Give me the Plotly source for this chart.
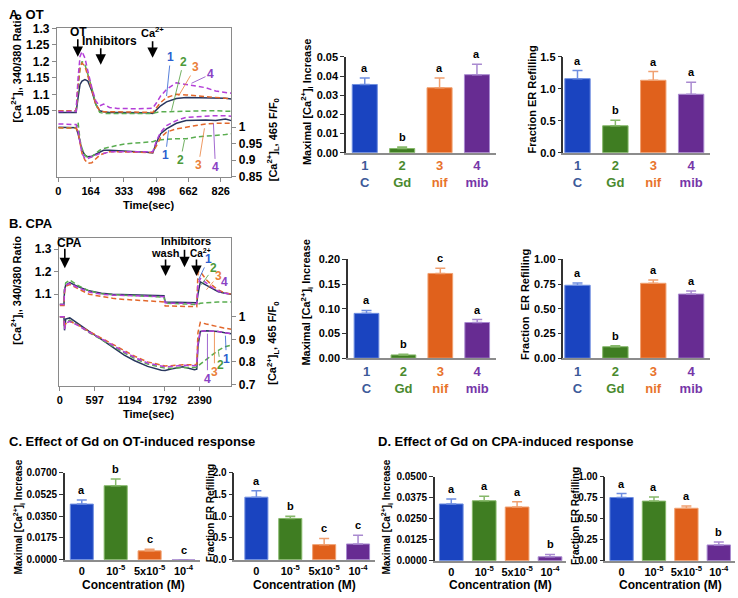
import plotly.graph_objects as go

W, H = 738, 598
FONT = "Liberation Sans, Arial, sans-serif"

# ---------------- data: panel A traces (OT) ----------------
A_time = [0, 90, 100, 110, 120, 135, 150, 170, 190, 210, 230, 260, 300, 350, 400, 450, 480,
          500, 520, 550, 600, 650, 700, 750, 800, 850, 880]
A_ratio_C   = [1.045, 1.045, 1.09, 1.13, 1.14, 1.145, 1.14, 1.11, 1.07, 1.05, 1.047, 1.045, 1.045, 1.045, 1.045, 1.044, 1.042,
               1.055, 1.065, 1.077, 1.087, 1.09, 1.09, 1.09, 1.088, 1.088, 1.086]
A_ratio_Gd  = [1.05, 1.05, 1.12, 1.18, 1.2, 1.19, 1.16, 1.12, 1.07, 1.045, 1.042, 1.042, 1.043, 1.043, 1.043, 1.043, 1.042,
               1.045, 1.047, 1.047, 1.048, 1.05, 1.05, 1.05, 1.05, 1.048, 1.048]
A_ratio_nif = [1.05, 1.05, 1.13, 1.18, 1.195, 1.185, 1.155, 1.11, 1.07, 1.05, 1.047, 1.047, 1.047, 1.046, 1.045, 1.045, 1.045,
               1.06, 1.075, 1.09, 1.1, 1.098, 1.095, 1.092, 1.09, 1.088, 1.087]
A_ratio_mib = [1.048, 1.048, 1.15, 1.215, 1.23, 1.21, 1.17, 1.12, 1.08, 1.065, 1.07, 1.06, 1.057, 1.056, 1.056, 1.057, 1.058,
               1.075, 1.095, 1.115, 1.135, 1.13, 1.125, 1.12, 1.11, 1.105, 1.103]
A_ff0_C   = [1.0, 0.998, 0.98, 0.95, 0.93, 0.915, 0.91, 0.912, 0.918, 0.925, 0.93, 0.93, 0.928, 0.927, 0.925, 0.924, 0.922,
             0.955, 0.98, 0.995, 1.012, 1.02, 1.022, 1.022, 1.02, 1.025, 1.02]
A_ff0_Gd  = [0.998, 0.998, 1.015, 0.96, 0.935, 0.915, 0.908, 0.91, 0.92, 0.93, 0.935, 0.94, 0.945, 0.95, 0.953, 0.955, 0.956,
             0.96, 0.962, 0.963, 0.965, 0.965, 0.97, 0.972, 0.975, 0.978, 0.98]
A_ff0_nif = [0.998, 0.997, 0.985, 0.95, 0.92, 0.9, 0.89, 0.892, 0.905, 0.915, 0.92, 0.925, 0.925, 0.925, 0.924, 0.923, 0.923,
             0.945, 0.968, 0.985, 0.995, 1.0, 1.005, 1.01, 1.012, 1.012, 1.012]
A_ff0_mib = [1.01, 1.008, 0.99, 0.95, 0.92, 0.905, 0.905, 0.91, 0.915, 0.92, 0.92, 0.925, 0.925, 0.925, 0.925, 0.925, 0.925,
             0.96, 0.985, 1.005, 1.02, 1.03, 1.032, 1.033, 1.035, 1.035, 1.033]
A_xticks = [0, 164, 333, 498, 662, 826]

# ---------------- data: panel B traces (CPA) ----------------
B_time = [0, 70, 80, 100, 170, 300, 500, 711, 900, 1100, 1280, 1500, 1735, 1780, 1800, 1900, 2100, 2300, 2340,
          2360, 2400, 2500, 2600, 2700, 2800, 2930]
B_ratio_C   = [1.054, 1.054, 1.12, 1.14, 1.152, 1.135, 1.115, 1.104, 1.1, 1.098, 1.097, 1.095, 1.094, 1.093, 1.065, 1.064,
               1.063, 1.062, 1.062, 1.1, 1.155, 1.14, 1.125, 1.112, 1.105, 1.1]
B_ratio_Gd  = [1.054, 1.054, 1.12, 1.15, 1.163, 1.14, 1.115, 1.102, 1.098, 1.095, 1.093, 1.09, 1.088, 1.087, 1.06, 1.058,
               1.057, 1.055, 1.055, 1.056, 1.06, 1.063, 1.064, 1.065, 1.065, 1.065]
B_ratio_nif = [1.05, 1.05, 1.11, 1.135, 1.143, 1.125, 1.1, 1.09, 1.082, 1.077, 1.074, 1.07, 1.067, 1.066, 1.048, 1.047,
               1.046, 1.045, 1.045, 1.2, 1.2, 1.165, 1.14, 1.12, 1.108, 1.1]
B_ratio_mib = [1.054, 1.054, 1.115, 1.14, 1.148, 1.13, 1.11, 1.1, 1.096, 1.094, 1.093, 1.09, 1.09, 1.089, 1.062, 1.06,
               1.06, 1.058, 1.058, 1.14, 1.17, 1.15, 1.13, 1.115, 1.105, 1.1]
B_ff0_C   = [1.0, 1.0, 0.94, 0.99, 0.995, 0.97, 0.935, 0.9, 0.865, 0.83, 0.805, 0.78, 0.763, 0.762, 0.762, 0.768,
             0.778, 0.765, 0.768, 0.87, 0.935, 0.938, 0.937, 0.935, 0.93, 0.925]
B_ff0_Gd  = [1.0, 1.0, 0.95, 0.975, 0.985, 0.965, 0.93, 0.9, 0.87, 0.84, 0.815, 0.79, 0.775, 0.773, 0.772, 0.772,
             0.775, 0.775, 0.776, 0.78, 0.79, 0.81, 0.83, 0.85, 0.865, 0.875]
B_ff0_nif = [1.0, 1.0, 0.95, 0.97, 0.98, 0.965, 0.935, 0.905, 0.88, 0.85, 0.825, 0.8, 0.785, 0.783, 0.782, 0.783,
             0.787, 0.787, 0.79, 0.93, 0.975, 0.968, 0.962, 0.955, 0.95, 0.945]
B_ff0_mib = [1.0, 1.0, 0.945, 0.97, 0.98, 0.963, 0.932, 0.9, 0.875, 0.845, 0.82, 0.795, 0.78, 0.778, 0.778, 0.78,
             0.785, 0.783, 0.785, 0.88, 0.935, 0.938, 0.937, 0.935, 0.93, 0.925]
B_xticks = [0, 597, 1194, 1792, 2390]

# ---------------- data: bar panels ----------------
groups = ["1", "2", "3", "4"]
group_names = ["C", "Gd", "nif", "mib"]
conc_labels = ["0", "10<sup>-5</sup>", "5x10<sup>-5</sup>", "10<sup>-4</sup>"]

A_max_mean = [0.0356, 0.0022, 0.0339, 0.0407]
A_max_sem = [0.0034, 0.0008, 0.0051, 0.0054]
A_max_letters = ["a", "b", "a", "a"]
A_ref_mean = [1.159, 0.422, 1.134, 0.915]
A_ref_sem = [0.127, 0.086, 0.137, 0.188]
A_ref_letters = ["a", "b", "a", "a"]

B_max_mean = [0.0907, 0.0066, 0.1715, 0.0722]
B_max_sem = [0.006, 0.0014, 0.0106, 0.006]
B_max_letters = ["a", "b", "c", "a"]
B_ref_mean = [0.738, 0.116, 0.758, 0.649]
B_ref_sem = [0.023, 0.01, 0.033, 0.03]
B_ref_letters = ["a", "b", "a", "a"]

C_max_mean = [0.0447, 0.0595, 0.0071, 0.0]
C_max_sem = [0.0032, 0.0053, 0.0013, 0.0]
C_max_letters = ["a", "b", "c", "c"]
C_ref_mean = [1.436, 0.947, 0.346, 0.361]
C_ref_sem = [0.15, 0.053, 0.143, 0.203]
C_ref_letters = ["a", "b", "c", "c"]

D_max_mean = [0.0337, 0.0356, 0.0319, 0.0023]
D_max_sem = [0.0029, 0.0027, 0.0031, 0.0014]
D_max_letters = ["a", "a", "a", "b"]
D_ref_mean = [0.751, 0.708, 0.623, 0.187]
D_ref_sem = [0.047, 0.05, 0.027, 0.035]
D_ref_letters = ["a", "a", "a", "b"]

# ---------------- styles ----------------
BAR_COLORS = ["#1a44c0", "#3f7d22", "#e0611c", "#672c92"]
ERR_COLORS = ["#6f8ee0", "#86b86a", "#f0a070", "#a98ad0"]
TICK_COLORS = ["#3d5a99", "#4a8a2e", "#e8732c", "#7636a8"]
LINE_COLORS = ["#28365e", "#5aad50", "#e2672b", "#b43fd8"]
LABEL_COLORS = ["#2c5fd0", "#4d9a3a", "#ea7f3a", "#8a42c4"]
LINE_DASH = ["solid", "5px,3px", "5px,3px", "5px,3px"]


def fx(px):
    return px / W


def fy(py):
    return 1 - py / H


fig = go.Figure()
layout = dict(width=W, height=H, margin=dict(l=0, r=0, t=0, b=0),
              paper_bgcolor="white", plot_bgcolor="rgba(0,0,0,0)", showlegend=False,
              font=dict(family=FONT, size=11, color="black"))
ann = []


def txt(px, py, text, size=11, color="black", angle=0, xanchor="center", yanchor="middle"):
    ann.append(dict(x=fx(px), y=fy(py), xref="paper", yref="paper", text=text, showarrow=False,
                    textangle=angle, xanchor=xanchor, yanchor=yanchor,
                    font=dict(family=FONT, size=size, color=color)))


def arrow(px, py_tail, py_head):
    ann.append(dict(x=fx(px), y=fy(py_head), xref="paper", yref="paper", text="", showarrow=True,
                    ax=0, ay=-(py_head - py_tail), axref="pixel", ayref="pixel",
                    arrowhead=2, arrowsize=1.3, arrowwidth=1.6, arrowcolor="black"))


def leader(px_text, py_text, px_end, py_end, text, color):
    ann.append(dict(x=fx(px_end), y=fy(py_end), xref="paper", yref="paper", text="<b>%s</b>" % text,
                    showarrow=True, ax=px_text - px_end, ay=py_text - py_end,
                    arrowhead=0, arrowwidth=0.8, arrowcolor=color,
                    font=dict(family=FONT, size=12, color=color)))


def trace_panel(xn, yl, yr, xl, xr, ytop, ybot, xrange, yrange, time, tops, bots,
                xticks, lticks, rticks):
    xs = "x" if xn == 1 else "x%d" % xn
    yls = "y" if yl == 1 else "y%d" % yl
    yrs = "y%d" % yr
    for i, ser in enumerate(tops):
        fig.add_trace(go.Scatter(x=time, y=ser, mode="lines", xaxis=xs, yaxis=yls,
                                 line=dict(color=LINE_COLORS[i], width=1.5, dash=LINE_DASH[i])))
    for i, ser in enumerate(bots):
        fig.add_trace(go.Scatter(x=time, y=ser, mode="lines", xaxis=xs, yaxis=yrs,
                                 line=dict(color=LINE_COLORS[i], width=1.5, dash=LINE_DASH[i])))
    xk = "xaxis" if xn == 1 else "xaxis%d" % xn
    ylk = "yaxis" if yl == 1 else "yaxis%d" % yl
    layout[xk] = dict(domain=[fx(xl), fx(xr)], anchor=yls, range=xrange, tickvals=xticks,
                      ticktext=[str(v) for v in xticks], showline=True, mirror=True,
                      linecolor="#8a8a8a", linewidth=1, ticks="outside", ticklen=4, tickcolor="#8a8a8a",
                      showgrid=False, zeroline=False,
                      tickfont=dict(family=FONT, size=11, color="black", weight="bold"))
    layout[ylk] = dict(domain=[fy(ybot), fy(ytop)], anchor=xs, range=yrange,
                       tickvals=[v for v, _ in lticks], ticktext=[t for _, t in lticks],
                       showline=True, linecolor="#8a8a8a", linewidth=1, ticks="outside", ticklen=4,
                       tickcolor="#8a8a8a", showgrid=False, zeroline=False,
                       tickfont=dict(family=FONT, size=12, color="black", weight="bold"))
    layout["yaxis%d" % yr] = dict(overlaying=yls, side="right", anchor=xs, range=yrange,
                                  tickvals=[v for v, _ in rticks], ticktext=[t for _, t in rticks],
                                  showline=True, linecolor="#8a8a8a", linewidth=1, ticks="outside",
                                  ticklen=4, tickcolor="#8a8a8a", showgrid=False, zeroline=False,
                                  tickfont=dict(family=FONT, size=12, color="black", weight="bold"))


def bar_panel(xn, yn, xl, xr, ytop, ybot, xrange, ymax, yticks, tickfmt, means, sems, letters,
              ticktext, tickfont_size, width, ytick_size=11):
    xs, ys = "x%d" % xn, "y%d" % yn
    for i, (m, s) in enumerate(zip(means, sems)):
        fig.add_trace(go.Bar(x=[i], y=[m], width=width, xaxis=xs, yaxis=ys,
                             marker=dict(color=BAR_COLORS[i], line=dict(color=ERR_COLORS[i], width=1)),
                             error_y=dict(type="data", array=[s], arrayminus=[0], symmetric=False,
                                          color=ERR_COLORS[i], thickness=1.5, width=5)))
        ann.append(dict(x=i, y=m + s, xref=xs, yref=ys, text="<b>%s</b>" % letters[i], showarrow=False,
                        yanchor="bottom", yshift=2, font=dict(family=FONT, size=11, color="black")))
    layout["xaxis%d" % xn] = dict(domain=[fx(xl), fx(xr)], anchor=ys, range=xrange, tickvals=[0, 1, 2, 3],
                                  ticktext=ticktext, showline=True, linecolor="#8c8c8c", linewidth=2,
                                  ticks="", showgrid=False, zeroline=False,
                                  tickfont=dict(family=FONT, size=tickfont_size, color="black", weight="bold"))
    layout["yaxis%d" % yn] = dict(domain=[fy(ybot), fy(ytop)], anchor=xs, range=[0, ymax], tickvals=yticks,
                                  tickformat=tickfmt, showline=True, linecolor="#333333", linewidth=1.5,
                                  ticks="outside", ticklen=4, tickwidth=1.2, tickcolor="#333333",
                                  showgrid=False, zeroline=False,
                                  tickfont=dict(family=FONT, size=ytick_size, color="black", weight="bold"))


grp_ticktext = ['<span style="color:%s">%s</span><br><span style="color:%s">%s</span>'
                % (TICK_COLORS[i], groups[i], TICK_COLORS[i], group_names[i]) for i in range(4)]

# ---------------- Panel A ----------------
trace_panel(1, 1, 2, 55, 230, 22, 175, [-8, 880], [0.848, 1.303], A_time,
            [A_ratio_C, A_ratio_Gd, A_ratio_nif, A_ratio_mib],
            [A_ff0_C, A_ff0_Gd, A_ff0_nif, A_ff0_mib], A_xticks,
            [(1.05, "1.05"), (1.1, "1.1"), (1.15, "1.15"), (1.2, "1.2"), (1.25, "1.25"), (1.3, "1.3")],
            [(0.85, "0.85"), (0.9, "0.9"), (0.95, "0.95"), (1.0, "1")])
bar_panel(2, 3, 345, 495, 52, 150, [-0.5, 3.5], 0.05, [0, 0.01, 0.02, 0.03, 0.04, 0.05], ".2f",
          A_max_mean, A_max_sem, A_max_letters, grp_ticktext, 13, 0.67)
bar_panel(3, 4, 563, 710, 52, 150, [-0.37, 3.5], 1.5, [0, 0.5, 1.0, 1.5], ".1f",
          A_ref_mean, A_ref_sem, A_ref_letters, grp_ticktext, 13, 0.67)

# ---------------- Panel B ----------------
trace_panel(4, 5, 6, 57, 230, 237, 388, [-17, 2931], [0.695, 1.35], B_time,
            [B_ratio_C, B_ratio_Gd, B_ratio_nif, B_ratio_mib],
            [B_ff0_C, B_ff0_Gd, B_ff0_nif, B_ff0_mib], B_xticks,
            [(1.1, "1.1"), (1.2, "1.2"), (1.3, "1.3")],
            [(0.7, "0.7"), (0.8, "0.8"), (0.9, "0.9"), (1.0, "1")])
bar_panel(5, 7, 347, 495, 259, 360, [-0.5, 3.5], 0.2, [0, 0.05, 0.1, 0.15, 0.2], ".2f",
          B_max_mean, B_max_sem, B_max_letters, grp_ticktext, 13, 0.67)
bar_panel(6, 8, 563, 710, 259, 360, [-0.37, 3.5], 1.0, [0, 0.25, 0.5, 0.75, 1.0], ".2f",
          B_ref_mean, B_ref_sem, B_ref_letters, grp_ticktext, 13, 0.67)

# ---------------- Panel C ----------------
bar_panel(7, 9, 63, 199, 477, 566, [-0.5, 3.5], 0.07, [0, 0.0175, 0.035, 0.0525, 0.07], ".4f",
          C_max_mean, C_max_sem, C_max_letters, conc_labels, 11, 0.68, 10)
bar_panel(8, 10, 233, 374, 477, 566, [-0.65, 3.5], 2.0, [0, 0.5, 1.0, 1.5, 2.0], ".1f",
          C_ref_mean, C_ref_sem, C_ref_letters, conc_labels, 11, 0.68, 10)

# ---------------- Panel D ----------------
bar_panel(9, 11, 434, 566, 481, 567, [-0.5, 3.5], 0.05, [0, 0.0125, 0.025, 0.0375, 0.05], ".4f",
          D_max_mean, D_max_sem, D_max_letters, conc_labels, 11, 0.72, 10)
bar_panel(10, 12, 605, 735, 481, 567, [-0.5, 3.5], 1.0, [0, 0.25, 0.5, 0.75, 1.0], ".2f",
          D_ref_mean, D_ref_sem, D_ref_letters, conc_labels, 11, 0.72, 10)

# ---------------- text ----------------
txt(5, 9, "<b>A. OT</b>", 13, xanchor="left")
txt(5, 222, "<b>B. CPA</b>", 13, xanchor="left")
txt(5, 445, "<b>C. Effect of Gd on OT-induced response</b>", 13, xanchor="left")
txt(375, 445, "<b>D. Effect of Gd on CPA-induced response</b>", 13, xanchor="left")

txt(15, 63, "<b>[Ca<sup>2+</sup>]<sub>i</sub>, 340/380 Ratio</b>", 11, angle=-90)
txt(272, 137, "<b>[Ca<sup>2+</sup>]<sub>L</sub>, 465 F/F<sub>0</sub></b>", 11, angle=-90)
txt(147, 203, "<b>Time(sec)</b>", 11)
txt(15, 290, "<b>[Ca<sup>2+</sup>]<sub>i</sub>, 340/380 Ratio</b>", 11, angle=-90)
txt(272, 345, "<b>[Ca<sup>2+</sup>]<sub>L</sub>, 465 F/F<sub>0</sub></b>", 11, angle=-90)
txt(147, 417, "<b>Time(sec)</b>", 11)

MAXT = "<b>Maximal [Ca<sup>2+</sup>]<sub>i</sub> Increase</b>"
txt(306, 98, MAXT, 11, angle=-90)
txt(531, 96, "<b>Fraction ER Refilling</b>", 11, angle=-90)
txt(306, 303, MAXT, 11, angle=-90)
txt(525, 305, "<b>Fraction  ER Refilling</b>", 11, angle=-90)
txt(17, 522, MAXT, 10, angle=-90)
txt(209, 518, "<b>Fraction ER Refilling</b>", 10, angle=-90)
txt(386, 522, MAXT, 10, angle=-90)
txt(575, 521, "<b>Fraction ER Refilling</b>", 10, angle=-90)
for cx in (132, 303, 500, 670):
    txt(cx, 592, "<b>Concentration (M)</b>", 12)

# panel A event markers
txt(77, 27, "<b>OT</b>", 12)
arrow(76, 33, 52)
txt(108, 36, "<b>Inhibitors</b>", 12)
arrow(99, 42, 60)
txt(151, 27, "<b>Ca<sup>2+</sup></b>", 11)
arrow(151, 35, 53)
# panel A series labels
a_top = [(169, 53, 165, 92), (182, 58, 170, 107), (194, 63, 177, 92), (209, 70, 190, 79)]
a_bot = [(164, 152, 167, 127), (179, 157, 183, 137), (197, 162, 203, 125), (214, 164, 212, 120)]
for i in range(4):
    leader(*a_top[i], groups[i], LABEL_COLORS[i])
    leader(*a_bot[i], groups[i], LABEL_COLORS[i])

# panel B event markers
txt(68, 242, "<b>CPA</b>", 12)
arrow(63, 247, 268)
txt(184, 240, "<b>Inhibitors</b>", 11)
arrow(183, 248, 267)
txt(164, 252, "<b>wash</b>", 11)
arrow(164, 258, 276)
txt(199, 252, "<b>Ca<sup>2+</sup></b>", 10)
arrow(195, 258, 276)
b_top = [(207, 259, 197, 280), (212, 268, 200, 285), (217, 276, 205, 290), (223, 282, 217, 293)]
b_bot = [(225, 360, 224, 337), (219, 367, 217, 353), (213, 373, 213, 333), (206, 380, 206, 335)]
for i in range(4):
    leader(*b_top[i], groups[i], LABEL_COLORS[i])
    leader(*b_bot[i], groups[i], LABEL_COLORS[i])

layout["annotations"] = ann
fig.update_layout(**layout)
fig.write_html("out.html", config={"displayModeBar": False},
               post_script="document.body.style.margin='0';")
